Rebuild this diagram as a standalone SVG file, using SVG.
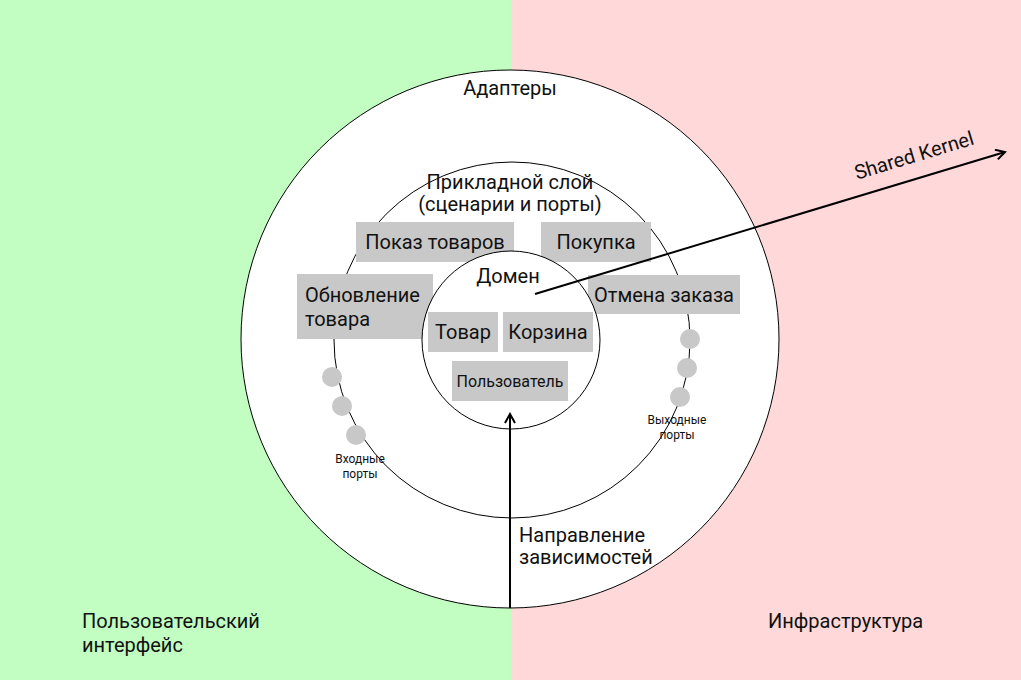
<svg xmlns="http://www.w3.org/2000/svg" width="1021" height="680" viewBox="0 0 1021 680">
<style>
text{font-family:Roboto,"Liberation Sans",sans-serif;fill:#111}
.ring{fill:#fff;stroke:#000;stroke-width:1}
.box{fill:#c8c8c8}
.port{fill:#c8c8c8}
.t18{font-size:20px}
.t14{font-size:16px}
.t11{font-size:12px}
.c{text-anchor:middle}
.conn{stroke:#000;stroke-width:2;fill:none}
</style>
<defs>
<marker id="arr" viewBox="0 0 12 12" refX="10" refY="6" markerWidth="12" markerHeight="12" markerUnits="userSpaceOnUse" orient="auto">
<path d="M1,1 L10,6 L1,11" fill="none" stroke="#000" stroke-width="2"/>
</marker>
</defs>
<rect x="0" y="0" width="511" height="680" fill="#c2fdc2"/>
<rect x="511" y="0" width="510" height="680" fill="#ffd9d9"/>
<g id="adapters">
<circle class="ring" cx="510" cy="339" r="269"/>
<text class="t18 c" x="510" y="95">Адаптеры</text>
</g>
<g id="application">
<circle class="ring" cx="512" cy="340" r="178"/>
<text class="t18 c" x="510" y="189">Прикладной слой</text>
<text class="t18 c" x="510" y="211">(сценарии и порты)</text>
</g>
<g id="show-products"><rect class="box" x="356" y="222" width="158" height="40"/><text class="t18 c" x="435" y="249">Показ товаров</text></g>
<g id="purchase"><rect class="box" x="541" y="222" width="110" height="40"/><text class="t18 c" x="596" y="249">Покупка</text></g>
<g id="update-product"><rect class="box" x="297" y="274" width="136" height="65"/><text class="t18" x="305" y="302">Обновление</text><text class="t18" x="305" y="326">товара</text></g>
<g id="cancel-order"><rect class="box" x="588" y="275" width="152" height="39"/><text class="t18 c" x="664" y="302">Отмена заказа</text></g>
<g id="domain">
<circle class="ring" cx="511" cy="340" r="89"/>
<text class="t18 c" x="508" y="283">Домен</text>
</g>
<g id="product"><rect class="box" x="428" y="312" width="70" height="40"/><text class="t18 c" x="463" y="339">Товар</text></g>
<g id="cart"><rect class="box" x="503" y="312" width="90" height="40"/><text class="t18 c" x="548" y="339">Корзина</text></g>
<g id="user"><rect class="box" x="452" y="361" width="116" height="40"/><text class="t14 c" x="510" y="387">Пользователь</text></g>
<g id="input-ports">
<circle class="port" cx="332" cy="377" r="10"/>
<circle class="port" cx="342" cy="406" r="10"/>
<circle class="port" cx="356" cy="435" r="10"/>
<text class="t11 c" x="360" y="463">Входные</text>
<text class="t11 c" x="360" y="478">порты</text>
</g>
<g id="output-ports">
<circle class="port" cx="690" cy="339" r="10"/>
<circle class="port" cx="687" cy="368" r="10"/>
<circle class="port" cx="680" cy="397" r="10"/>
<text class="t11 c" x="677" y="424">Выходные</text>
<text class="t11 c" x="677" y="439">порты</text>
</g>
<g id="connectors">
<line class="conn" x1="510" y1="608" x2="510" y2="414" marker-end="url(#arr)"/>
<line class="conn" x1="535" y1="294" x2="1005" y2="152" marker-end="url(#arr)"/>
</g>
<g id="labels">
<text class="t18" x="519" y="542">Направление</text>
<text class="t18" x="519" y="564">зависимостей</text>
<text class="t18" x="916" y="162" text-anchor="middle" transform="rotate(-16.8 916 162)">Shared Kernel</text>
<text class="t18" x="82" y="628">Пользовательский</text>
<text class="t18" x="82" y="652">интерфейс</text>
<text class="t18" x="768" y="628">Инфраструктура</text>
</g>
</svg>
